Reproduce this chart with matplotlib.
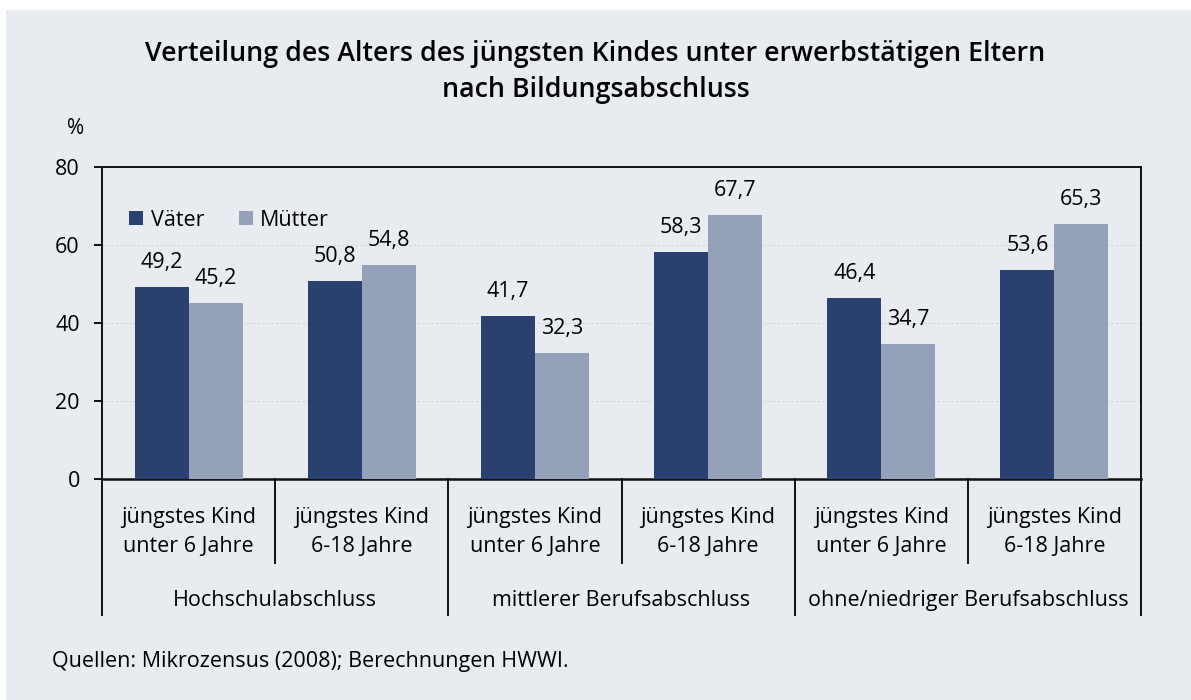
import matplotlib
matplotlib.use("Agg")
import matplotlib.pyplot as plt
from matplotlib.patches import Rectangle
import numpy as np

# data
sub_labels = [
    "jüngstes Kind\nunter 6 Jahre",
    "jüngstes Kind\n6-18 Jahre",
] * 3
group_labels = [
    "Hochschulabschluss",
    "mittlerer Berufsabschluss",
    "ohne/niedriger Berufsabschluss",
]
vaeter = [49.2, 50.8, 41.7, 58.3, 46.4, 53.6]
muetter = [45.2, 54.8, 32.3, 67.7, 34.7, 65.3]

BG = "#e8ebf0"
C_V = "#2a4170"
C_M = "#95a1b8"

plt.rcParams["font.family"] = ["Open Sans", "DejaVu Sans"]

fig = plt.figure(figsize=(11.91, 7.0), dpi=100)
fig.patch.set_facecolor("white")
fig.patches.append(Rectangle((6 / 1191, 0), 1, 690 / 700, transform=fig.transFigure,
                             facecolor=BG, edgecolor="none", zorder=-10))

ax = fig.add_axes([102 / 1191, 221 / 700, 1039 / 1191, 312 / 700])
ax.set_facecolor(BG)

x = np.arange(len(vaeter)) + 0.5
w = 0.312
ax.bar(x - w / 2, vaeter, w, color=C_V, label="Väter", zorder=3)
ax.bar(x + w / 2, muetter, w, color=C_M, label="Mütter", zorder=3)

for xi, v in zip(x - w / 2, vaeter):
    ax.annotate(f"{v:.1f}".replace(".", ","), (xi, v), xytext=(0, 10),
                textcoords="offset points", ha="center", va="bottom", fontsize=15.5)
for xi, v in zip(x + w / 2, muetter):
    ax.annotate(f"{v:.1f}".replace(".", ","), (xi, v), xytext=(0, 10),
                textcoords="offset points", ha="center", va="bottom", fontsize=15.5)

ax.set_xlim(0, 6)
ax.set_ylim(0, 80)
ax.set_yticks([0, 20, 40, 60, 80])
ax.set_xticks([])
ax.tick_params(axis="y", direction="out", length=6, width=1.3, pad=10, labelsize=15.5)
ax.grid(axis="y", color="#cfd3da", linestyle=(0, (2, 2)), linewidth=0.8, zorder=0)
for s in ax.spines.values():
    s.set_linewidth(1.4)
    s.set_color("#111111")
ax.spines["bottom"].set_linewidth(1.8)

# category axis below the plot
trans = ax.get_xaxis_transform()
for b in range(7):
    y_end = -0.436 if b % 2 == 0 else -0.269
    ax.plot([b, b], [0, y_end], color="#111111", lw=1.4, transform=trans, clip_on=False)
for xi, lab in zip(x, sub_labels):
    ax.text(xi, -0.17, lab, transform=trans, ha="center", va="center",
            fontsize=15.5, linespacing=1.45)
for i, lab in enumerate(group_labels):
    ax.text(2 * i + 1, -0.388, lab, transform=trans, ha="center", va="center", fontsize=15.5)

leg = ax.legend(loc="center left", bbox_to_anchor=(0.018, 0.83), ncol=2, frameon=False,
                fontsize=15.5, handlelength=0.65, handleheight=0.65, handletextpad=0.35,
                columnspacing=1.6, borderaxespad=0)

fig.text(0.5, 0.897, "Verteilung des Alters des jüngsten Kindes unter erwerbstätigen Eltern\n"
         "nach Bildungsabschluss", ha="center", va="center", fontsize=19.3,
         fontweight="semibold", linespacing=1.35)
fig.text(76 / 1191, 1 - 128 / 700, "%", ha="center", va="center", fontsize=15)
fig.text(52 / 1191, 1 - 662 / 700, "Quellen: Mikrozensus (2008); Berechnungen HWWI.",
         ha="left", va="center", fontsize=15.5)

fig.savefig("out.png", dpi=100, facecolor=fig.get_facecolor())
